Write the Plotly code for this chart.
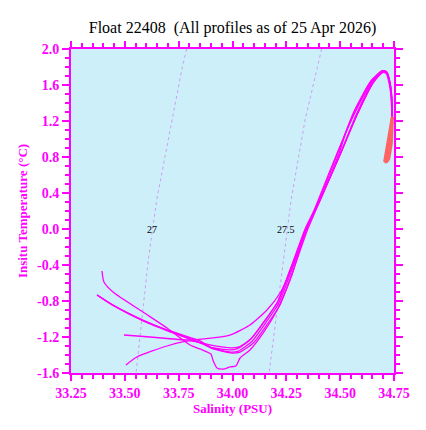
import plotly.graph_objects as go

# Salinity / temperature profiles (magenta = upper part)
p1_sal = [33.394, 33.403, 33.445, 33.584, 33.696, 33.803, 33.849, 33.900, 33.909, 33.928, 33.956, 33.988,
          34.016, 34.035, 34.081, 34.142, 34.207, 34.276, 34.341, 34.406, 34.499, 34.578, 34.652, 34.699,
          34.717, 34.731, 34.739, 34.741]
p1_temp = [-0.467, -0.589, -0.700, -0.922, -1.100, -1.289, -1.333, -1.389, -1.456, -1.544, -1.556, -1.533,
           -1.522, -1.433, -1.344, -1.156, -0.900, -0.511, 0.000, 0.322, 0.822, 1.267, 1.622, 1.744,
           1.733, 1.622, 1.467, 1.244]

p2_sal = [33.371, 33.445, 33.584, 33.696, 33.849, 33.896, 33.988, 34.021, 34.081, 34.142, 34.207, 34.267,
          34.341, 34.406, 34.499, 34.578, 34.652, 34.699, 34.717, 34.731, 34.739, 34.741]
p2_temp = [-0.733, -0.844, -1.011, -1.122, -1.244, -1.311, -1.344, -1.333, -1.233, -1.044, -0.822, -0.456,
           0.000, 0.322, 0.822, 1.267, 1.622, 1.744, 1.733, 1.622, 1.467, 1.244]

p3_sal = [33.371, 33.447, 33.590, 33.705, 33.855, 33.905, 33.992, 34.028, 34.090, 34.150, 34.213, 34.272,
          34.345, 34.402, 34.490, 34.568, 34.645, 34.695, 34.715, 34.730, 34.738, 34.742]
p3_temp = [-0.733, -0.850, -1.022, -1.133, -1.267, -1.322, -1.367, -1.356, -1.250, -1.056, -0.833, -0.478,
           0.000, 0.344, 0.867, 1.300, 1.650, 1.760, 1.745, 1.630, 1.470, 1.240]

p4_sal = [33.371, 33.450, 33.595, 33.712, 33.862, 33.912, 33.998, 34.035, 34.097, 34.156, 34.218, 34.276,
          34.348, 34.410, 34.500, 34.576, 34.650, 34.700, 34.718, 34.732, 34.740, 34.743]
p4_temp = [-0.733, -0.856, -1.033, -1.144, -1.278, -1.333, -1.378, -1.367, -1.267, -1.078, -0.856, -0.500,
           -0.011, 0.333, 0.833, 1.278, 1.633, 1.750, 1.738, 1.625, 1.465, 1.245]

p5_sal = [33.496, 33.617, 33.803, 33.988, 34.081, 34.160, 34.221, 34.272, 34.343, 34.408, 34.495, 34.525,
          34.570, 34.648, 34.697, 34.716, 34.729, 34.737, 34.740]
p5_temp = [-1.178, -1.200, -1.233, -1.178, -1.067, -0.900, -0.711, -0.450, 0.010, 0.330, 0.840, 1.060,
           1.300, 1.640, 1.760, 1.745, 1.640, 1.470, 1.250]

p6_sal = [33.505, 33.556, 33.696, 33.803, 33.900, 33.990, 34.030, 34.090, 34.150, 34.212, 34.270, 34.338,
          34.404, 34.490, 34.565, 34.645, 34.695, 34.714, 34.728, 34.737, 34.741]
p6_temp = [-1.511, -1.422, -1.300, -1.244, -1.290, -1.320, -1.310, -1.210, -1.020, -0.800, -0.440, 0.005,
           0.330, 0.850, 1.310, 1.650, 1.740, 1.728, 1.610, 1.460, 1.240]

# deep part of each profile (drawn in red)
d1_sal = [34.741, 34.735, 34.727, 34.719, 34.712]
d1_temp = [1.244, 1.100, 0.980, 0.850, 0.740]
d2_sal = [34.741, 34.739, 34.734, 34.729, 34.723]
d2_temp = [1.244, 1.080, 0.950, 0.840, 0.750]
d3_sal = [34.742, 34.736, 34.728, 34.719, 34.710]
d3_temp = [1.240, 1.120, 1.000, 0.870, 0.730]
d4_sal = [34.745, 34.744, 34.740, 34.734, 34.727]
d4_temp = [1.245, 1.090, 0.960, 0.860, 0.770]
d5_sal = [34.740, 34.731, 34.721, 34.712, 34.704]
d5_temp = [1.250, 1.110, 0.990, 0.860, 0.745]
d6_sal = [34.741, 34.737, 34.731, 34.724, 34.717]
d6_temp = [1.240, 1.070, 0.940, 0.820, 0.735]

# sigma-theta isopycnals
sig27_sal = [33.787, 33.764, 33.648, 33.609, 33.552]
sig27_temp = [2.0, 1.767, 0.322, -0.344, -1.6]
sig275_sal = [34.414, 34.337, 34.272, 34.236, 34.170]
sig275_temp = [2.0, 1.211, 0.322, -0.344, -1.6]
iso_labels = ['27', '27.5']
iso_label_sal = [33.626, 34.248]
iso_label_temp = [0.0, 0.0]

x_ticks = [33.25, 33.50, 33.75, 34.00, 34.25, 34.50, 34.75]
x_labels = ['33.25', '33.50', '33.75', '34.00', '34.25', '34.50', '34.75']
y_ticks = [-1.6, -1.2, -0.8, -0.4, 0.0, 0.4, 0.8, 1.2, 1.6, 2.0]
y_labels = ['-1.6', '-1.2', '-0.8', '-0.4', '0.0', '0.4', '0.8', '1.2', '1.6', '2.0']

MAG = '#ff00ff'
FONT = 'Liberation Serif'

fig = go.Figure()

for s, t in [(sig27_sal, sig27_temp), (sig275_sal, sig275_temp)]:
    fig.add_trace(go.Scatter(x=s, y=t, mode='lines', line=dict(color='#cf9cf2', width=1, dash='dot'),
                             showlegend=False, hoverinfo='skip'))

profiles = [(p1_sal, p1_temp), (p2_sal, p2_temp), (p3_sal, p3_temp),
            (p4_sal, p4_temp), (p5_sal, p5_temp), (p6_sal, p6_temp)]
for s, t in profiles:
    fig.add_trace(go.Scatter(x=s, y=t, mode='lines', line=dict(color=MAG, width=1.3, shape='spline', smoothing=0.6),
                             showlegend=False))

deeps = [(d1_sal, d1_temp), (d2_sal, d2_temp), (d3_sal, d3_temp),
         (d4_sal, d4_temp), (d5_sal, d5_temp), (d6_sal, d6_temp)]
for s, t in deeps:
    fig.add_trace(go.Scatter(x=s, y=t, mode='lines', line=dict(color='#ff6464', width=2), showlegend=False))

for lab, s, t in zip(iso_labels, iso_label_sal, iso_label_temp):
    fig.add_annotation(x=s, y=t, text=lab, showarrow=False, font=dict(family=FONT, size=10, color='black'))

axis_common = dict(showline=True, linecolor=MAG, linewidth=2, mirror='allticks', showgrid=False, zeroline=False,
                   ticks='outside', ticklen=7, tickwidth=2, tickcolor=MAG, automargin=False,
                   tickfont=dict(family=FONT, size=14, color=MAG, weight='bold'))

fig.update_xaxes(range=[33.25, 34.75], tickmode='array', tickvals=x_ticks, ticktext=x_labels,
                 minor=dict(tickmode='linear', tick0=33.25, dtick=0.05, ticks='outside', ticklen=4,
                            tickwidth=1.5, tickcolor=MAG, showgrid=False),
                 title=dict(text='Salinity (PSU)', font=dict(family=FONT, size=13, color=MAG, weight='bold'),
                            standoff=0),
                 **axis_common)
fig.update_xaxes(ticklen=6)
fig.update_yaxes(range=[-1.6, 2.0], tickmode='array', tickvals=y_ticks, ticktext=y_labels,
                 minor=dict(tickmode='linear', tick0=-1.6, dtick=0.1, ticks='outside', ticklen=4,
                            tickwidth=1.5, tickcolor=MAG, showgrid=False),
                 title=dict(text='Insitu Temperature (°C)', font=dict(family=FONT, size=13, color=MAG, weight='bold'),
                            standoff=6),
                 **axis_common)

# page has an 8px body margin, so the figure is sized to fit the window after that offset
fig.update_layout(
    width=418, height=422,
    margin=dict(l=63, r=32, t=41, b=57, autoexpand=False),
    paper_bgcolor='white', plot_bgcolor='#cdeffa',
    title=dict(text='Float 22408  (All profiles as of 25 Apr 2026)', x=0.5, xref='paper', xanchor='center',
               y=0.955, yanchor='middle', font=dict(family=FONT, size=16, color='black')),
    showlegend=False,
)

fig.write_html("out.html")
